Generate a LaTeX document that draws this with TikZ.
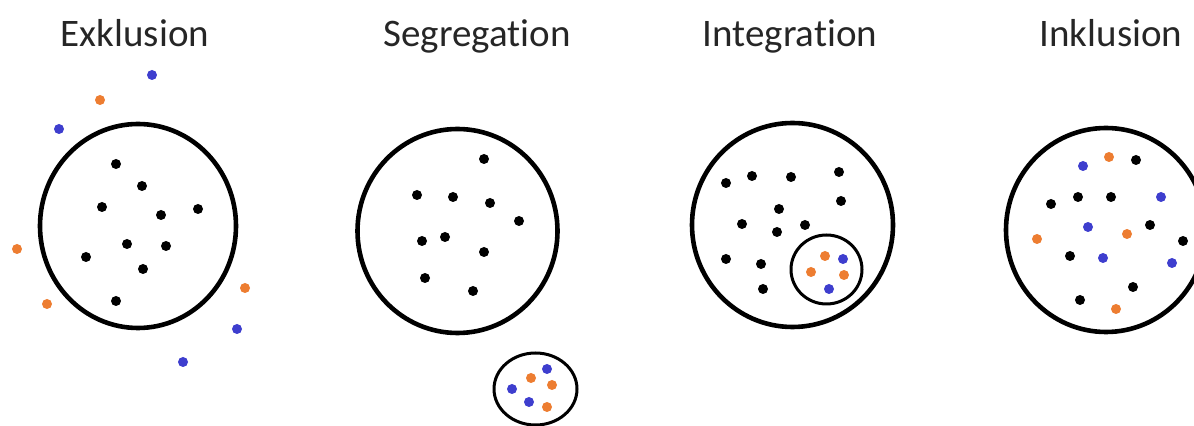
\documentclass[tikz,border=0pt]{standalone}
\usepackage{fontspec}
\setmainfont[Ligatures=NoCommon]{Carlito}
\usetikzlibrary{positioning}

\definecolor{dotorange}{RGB}{237,125,49}
\definecolor{dotblue}{RGB}{62,62,206}

\tikzset{
    bigring/.style={line width=2.3pt},
    smallring/.style={line width=1.5pt},
    titel/.style={anchor=base, font=\fontsize{19.5}{23}\selectfont, text=black!85},
}

\begin{document}
\begin{tikzpicture}[x=0.5pt, y=-0.5pt]

    \useasboundingbox (0,0) rectangle (1194,426);

    % titles
    \node[titel] (tEx)  at (135,47)  {Exklusion};
    \node[titel] (tSeg) at (477,47)  {Segregat\kern0pt ion};
    \node[titel] (tInt) at (790,47)  {Integrat\kern0pt ion};
    \node[titel] (tInk) at (1111,47) {Inklusion};

    % Exklusion
    \coordinate (Ex) at (138,226);
    \draw[bigring] (Ex) ellipse (98 and 102);
    \foreach \p in {(116,164),(142,186),(102,207),(161,215),(198,209),(127,244),(166,246),(86,257),(143,269),(116,301)}
        \fill \p circle (5);
    \foreach \p in {(100,100),(17,249),(47,304),(245,288)}
        \fill[dotorange] \p circle (5);
    \foreach \p in {(152,75),(59,129),(237,329),(183,362)}
        \fill[dotblue] \p circle (5);

    % Segregation
    \coordinate (Seg) at (457.5,231);
    \coordinate (SegS) at (535.5,389);
    \draw[bigring] (Seg) ellipse (100 and 102);
    \draw[smallring] (SegS) ellipse (41.5 and 36);
    \foreach \p in {(484,159),(417,195),(453,197),(490,203),(519,221),(422,241),(445,237),(484,252),(425,278),(473,291)}
        \fill \p circle (5);
    \foreach \p in {(531,378),(552,385),(547,407)}
        \fill[dotorange] \p circle (5);
    \foreach \p in {(547,369),(512,389),(529,402)}
        \fill[dotblue] \p circle (5);

    % Integration
    \coordinate (Int) at (792.5,225);
    \coordinate (IntS) at (826.5,269.5);
    \draw[bigring] (Int) ellipse (100.5 and 102);
    \draw[smallring] (IntS) ellipse (35.5 and 34.5);
    \foreach \p in {(726,183),(752,176),(791,177),(839,172),(841,201),(779,209),(742,224),(777,232),(805,225),(726,259),(761,264),(763,289)}
        \fill \p circle (5);
    \foreach \p in {(825,256),(811,272),(844,275)}
        \fill[dotorange] \p circle (5);
    \foreach \p in {(843,259),(829,289)}
        \fill[dotblue] \p circle (5);

    % Inklusion
    \coordinate (Ink) at (1106,230);
    \draw[bigring] (Ink) ellipse (100 and 102);
    \foreach \p in {(1136,160),(1051,204),(1078,197),(1111,197),(1150,225),(1183,241),(1070,256),(1133,287),(1080,300)}
        \fill \p circle (5);
    \foreach \p in {(1109,157),(1127,234),(1037,239),(1116,309)}
        \fill[dotorange] \p circle (5);
    \foreach \p in {(1083,166),(1161,197),(1088,227),(1103,258),(1172,263)}
        \fill[dotblue] \p circle (5);

\end{tikzpicture}
\end{document}
